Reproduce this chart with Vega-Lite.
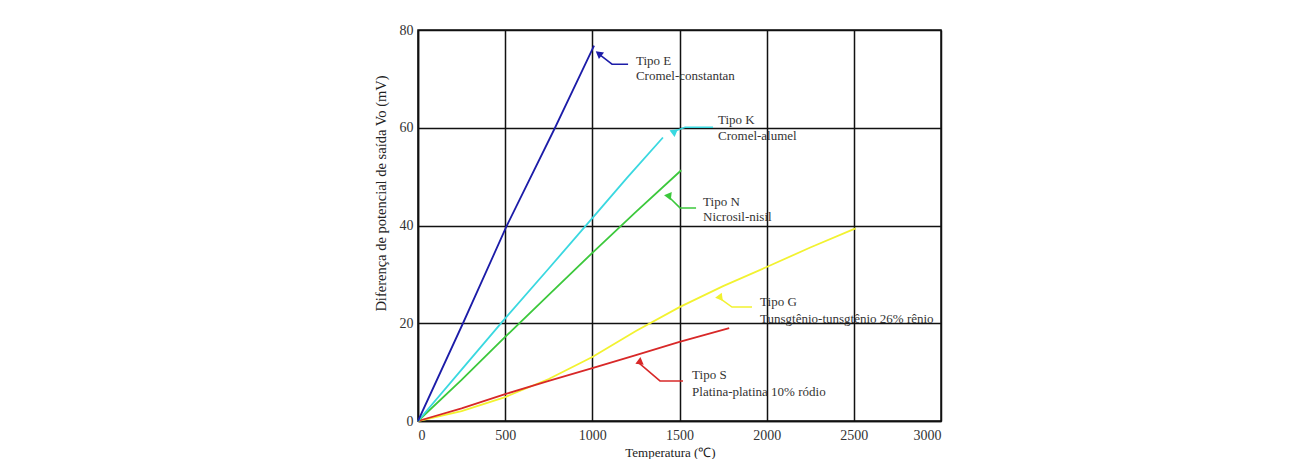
{
  "$schema": "https://vega.github.io/schema/vega-lite/v6.json",
  "autosize": {"type": "none"},
  "padding": {"left": 418, "top": 30, "right": 362, "bottom": 38},
  "width": 523,
  "height": 391,
  "background": "white",
  "config": {
    "font": "Liberation Serif",
    "view": {"stroke": "#111", "strokeWidth": 1.5},
    "axis": {
      "grid": true, "gridColor": "#111", "gridWidth": 1.5, "gridOpacity": 1,
      "domainColor": "#111", "domainWidth": 1.5, "ticks": false,
      "labelFont": "Liberation Serif", "labelFontSize": 14, "labelColor": "#333",
      "titleFont": "Liberation Serif", "titleFontSize": 14.5, "titleFontWeight": "normal", "titleColor": "#222"
    }
  },
  "datasets": {
    "curves": [
      {"series": "G", "t": 0, "v": 0}, {"series": "G", "t": 250, "v": 2}, {"series": "G", "t": 500, "v": 4.9},
      {"series": "G", "t": 750, "v": 8.6}, {"series": "G", "t": 1000, "v": 13.1}, {"series": "G", "t": 1250, "v": 18.4},
      {"series": "G", "t": 1500, "v": 23.3}, {"series": "G", "t": 1750, "v": 27.6}, {"series": "G", "t": 2000, "v": 31.5},
      {"series": "G", "t": 2250, "v": 35.5}, {"series": "G", "t": 2510, "v": 39.4},
      {"series": "S", "t": 0, "v": 0}, {"series": "S", "t": 250, "v": 2.6}, {"series": "S", "t": 500, "v": 5.5},
      {"series": "S", "t": 750, "v": 8.2}, {"series": "S", "t": 1000, "v": 10.8}, {"series": "S", "t": 1250, "v": 13.5},
      {"series": "S", "t": 1500, "v": 16.2}, {"series": "S", "t": 1785, "v": 19.0},
      {"series": "N", "t": 0, "v": 0}, {"series": "N", "t": 250, "v": 8.4}, {"series": "N", "t": 500, "v": 17.2},
      {"series": "N", "t": 750, "v": 25.8}, {"series": "N", "t": 1000, "v": 34.4}, {"series": "N", "t": 1250, "v": 42.8},
      {"series": "N", "t": 1510, "v": 51.3},
      {"series": "K", "t": 0, "v": 0}, {"series": "K", "t": 250, "v": 10.5}, {"series": "K", "t": 500, "v": 21},
      {"series": "K", "t": 750, "v": 31.2}, {"series": "K", "t": 1000, "v": 41.5}, {"series": "K", "t": 1200, "v": 49.8},
      {"series": "K", "t": 1405, "v": 58},
      {"series": "E", "t": 0, "v": 0}, {"series": "E", "t": 258, "v": 20}, {"series": "E", "t": 510, "v": 40},
      {"series": "E", "t": 786, "v": 60}, {"series": "E", "t": 1010, "v": 76.8}
    ],
    "arrows": [
      {"series": "E", "o": 1, "t": 1205, "v": 73.0}, {"series": "E", "o": 2, "t": 1113, "v": 73.0}, {"series": "E", "o": 3, "t": 1040, "v": 75.0},
      {"series": "K", "o": 1, "t": 1692, "v": 60.1}, {"series": "K", "o": 2, "t": 1532, "v": 60.1}, {"series": "K", "o": 3, "t": 1465, "v": 59.2},
      {"series": "N", "o": 1, "t": 1595, "v": 43.6}, {"series": "N", "o": 2, "t": 1503, "v": 43.6}, {"series": "N", "o": 3, "t": 1435, "v": 46.0},
      {"series": "G", "o": 1, "t": 1916, "v": 23.3}, {"series": "G", "o": 2, "t": 1801, "v": 23.3}, {"series": "G", "o": 3, "t": 1728, "v": 25.2},
      {"series": "S", "o": 1, "t": 1520, "v": 8.2}, {"series": "S", "o": 2, "t": 1388, "v": 8.2}, {"series": "S", "o": 3, "t": 1270, "v": 11.8}
    ],
    "tips": [
      {"series": "E", "t": 1036, "v": 75.2},
      {"series": "K", "t": 1462, "v": 59.2},
      {"series": "N", "t": 1432, "v": 46.1},
      {"series": "G", "t": 1725, "v": 25.3},
      {"series": "S", "t": 1266, "v": 12.0}
    ],
    "labels": [
      {"t": 1250, "v": 73.7, "text": "Tipo E"},
      {"t": 1250, "v": 70.6, "text": "Cromel-constantan"},
      {"t": 1721, "v": 61.6, "text": "Tipo K"},
      {"t": 1721, "v": 58.3, "text": "Cromel-alumel"},
      {"t": 1635, "v": 44.8, "text": "Tipo N"},
      {"t": 1635, "v": 41.7, "text": "Nicrosil-nisil"},
      {"t": 1962, "v": 24.3, "text": "Tipo G"},
      {"t": 1962, "v": 20.9, "text": "Tunsgtênio-tunsgtênio 26% rênio"},
      {"t": 1572, "v": 9.4, "text": "Tipo S"},
      {"t": 1572, "v": 5.9, "text": "Platina-platina 10% ródio"}
    ]
  },
  "encoding": {
    "x": {
      "field": "t", "type": "quantitative",
      "scale": {"domain": [0, 3000], "nice": false},
      "axis": {"values": [0, 500, 1000, 1500, 2000, 2500, 3000], "format": "d", "labelPadding": 7, "labelDx": -5,
               "title": "Temperatura (℃)", "titleX": 252, "titleY": 25, "titleBaseline": "top", "titleFontSize": 13}
    },
    "y": {
      "field": "v", "type": "quantitative",
      "scale": {"domain": [0, 80], "nice": false},
      "axis": {"values": [0, 20, 40, 60, 80], "format": "d", "labelPadding": 5,
               "title": "Diferença de potencial de saída Vo (mV)", "titleX": -30, "titleY": 163}
    }
  },
  "layer": [
    {
      "data": {"name": "curves"},
      "mark": {"type": "line", "strokeWidth": 1.8},
      "encoding": {
        "color": {"field": "series", "type": "nominal", "legend": null,
                  "scale": {"domain": ["E", "K", "N", "G", "S"], "range": ["#1c1ca8", "#3ad8e0", "#3cc83c", "#f2f230", "#d82828"]}}
      }
    },
    {
      "data": {"name": "arrows"},
      "mark": {"type": "line", "strokeWidth": 1.5},
      "encoding": {
        "order": {"field": "o", "type": "quantitative"},
        "color": {"field": "series", "type": "nominal", "legend": null}
      }
    },
    {
      "data": {"name": "tips"},
      "mark": {"type": "point", "shape": "triangle-up", "filled": true, "size": 70, "opacity": 1},
      "encoding": {
        "color": {"field": "series", "type": "nominal", "legend": null},
        "angle": {"field": "series", "type": "nominal", "legend": null,
                  "scale": {"domain": ["E", "K", "N", "G", "S"], "range": [308, 247, 315, 305, 311]}}
      }
    },
    {
      "data": {"name": "labels"},
      "mark": {"type": "text", "align": "left", "baseline": "middle", "fontSize": 13, "color": "#333", "font": "Liberation Serif"},
      "encoding": {"text": {"field": "text"}}
    }
  ]
}
